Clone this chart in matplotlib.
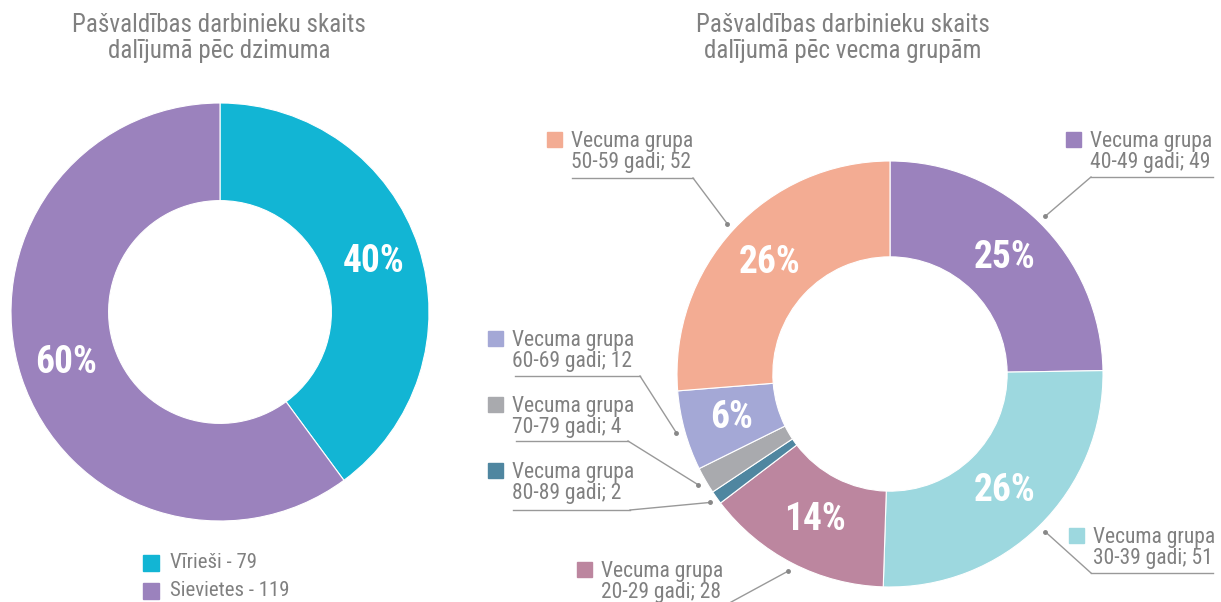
import numpy as np
import matplotlib.pyplot as plt
from matplotlib.lines import Line2D
from matplotlib.patches import Rectangle

# --- Dati ---
dzimums = ['Vīrieši', 'Sievietes']
dzimums_skaits = [79, 119]
dzimums_krasas = ['#12b5d4', '#9b82bd']

grupas = ['40-49', '30-39', '20-29', '80-89', '70-79', '60-69', '50-59']
grupas_skaits = [49, 51, 28, 2, 4, 12, 52]
grupas_krasas = ['#9b82bd', '#9dd8df', '#bc869f', '#4f86a0', '#a9aaae', '#a4a8d6', '#f3ac93']

W, H = 1221, 602
peleks = '#808080'
plt.rcParams['font.family'] = ['Roboto Condensed', 'Roboto', 'DejaVu Sans']

fig = plt.figure(figsize=(W / 100, H / 100), dpi=100)


def fp(x, y):
    # pikseli (no augšas) -> figūras koordinātas
    return x / W, 1 - y / H


def ass(cx, cy, r):
    return fig.add_axes([(cx - r) / W, 1 - (cy + r) / H, 2 * r / W, 2 * r / H])


def pct(p):
    return f'{p:.0f}%' if p >= 5 else ''


# --- Kreisā diagramma ---
ax1 = ass(220, 312, 209)
ax1.pie(dzimums_skaits, colors=dzimums_krasas, startangle=90, counterclock=False,
        wedgeprops=dict(width=0.467, edgecolor='white', linewidth=0.8),
        autopct=pct, pctdistance=0.775,
        textprops=dict(color='white', fontsize=27, fontweight='bold'))
ax1.set_xlim(-1, 1)
ax1.set_ylim(-1, 1)

fig.text(*fp(219, 38), 'Pašvaldības darbinieku skaits\ndalījumā pēc dzimuma',
         ha='center', va='center', fontsize=18, color=peleks, linespacing=1.1)

for i, (n, v) in enumerate(zip(dzimums, dzimums_skaits)):
    y = 563 + i * 28
    x0, y0 = fp(143, y + 8)
    fig.add_artist(Rectangle((x0, y0), 16 / W, 16 / H, transform=fig.transFigure,
                             color=dzimums_krasas[i]))
    fig.text(*fp(170, y), f'{n} - {v}', ha='left', va='center', fontsize=15, color=peleks)

# --- Labā diagramma ---
ax2 = ass(890, 374, 213)
wedges, _, _ = ax2.pie(grupas_skaits, colors=grupas_krasas, startangle=90, counterclock=False,
                       wedgeprops=dict(width=0.45, edgecolor='white', linewidth=0.8),
                       autopct=pct, pctdistance=0.77,
                       textprops=dict(color='white', fontsize=27, fontweight='bold'))
ax2.set_xlim(-1, 1)
ax2.set_ylim(-1, 1)

fig.text(*fp(843, 38), 'Pašvaldības darbinieku skaits\ndalījumā pēc vecma grupām',
         ha='center', va='center', fontsize=18, color=peleks, linespacing=1.1)

# izkārtojums: kvadrāta x, teksta vidus y, pasvītras y, pasvītras x0, x1, līnijas gals
izkartojums = {
    '40-49': (1066, 152, 177, 1091, 1213, 1091),
    '30-39': (1069, 548, 573, 1091, 1213, 1091),
    '20-29': (577, 582, 607, 598, 722, 722),
    '80-89': (488, 483, 510, 513, 630, 630),
    '70-79': (488, 417, 441, 516, 628, 628),
    '60-69': (488, 351, 376, 515, 640, 640),
    '50-59': (547, 152, 178, 572, 693, 693),
}

inv = fig.transFigure.inverted()
for w, g, v, c in zip(wedges, grupas, grupas_skaits, grupas_krasas):
    sx, ty, uy, ux0, ux1, lx = izkartojums[g]
    ang = np.deg2rad((w.theta1 + w.theta2) / 2)
    ax_pt = ax2.transData.transform((1.04 * np.cos(ang), 1.04 * np.sin(ang)))
    ax_pt = inv.transform(ax_pt)

    x0, y0 = fp(sx, ty - 5)
    fig.add_artist(Rectangle((x0, y0), 15 / W, 15 / H, transform=fig.transFigure, color=c))
    fig.text(*fp(sx + 24, ty), f'Vecuma grupa\n{g} gadi; {v}', ha='left', va='center',
             fontsize=15.5, color=peleks, linespacing=1.05)

    a = fp(ux0, uy)
    b = fp(ux1, uy)
    l = fp(lx, uy)
    fig.add_artist(Line2D([a[0], b[0]], [a[1], b[1]], transform=fig.transFigure,
                          color='#999999', lw=1))
    fig.add_artist(Line2D([l[0], ax_pt[0]], [l[1], ax_pt[1]], transform=fig.transFigure,
                          color='#999999', lw=1))
    fig.add_artist(Line2D([ax_pt[0]], [ax_pt[1]], transform=fig.transFigure,
                          color='#888888', marker='o', markersize=2.5, lw=0))

plt.savefig('out.png', dpi=100)
